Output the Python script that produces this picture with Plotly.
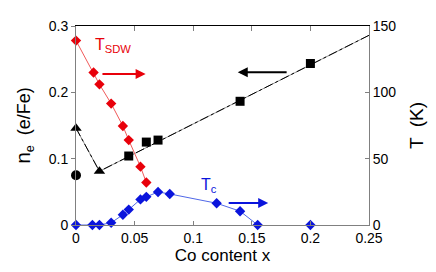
import plotly.graph_objects as go

# ---- data ----
sdw_x = [0, 0.015, 0.02, 0.03, 0.04, 0.045, 0.055, 0.06]
sdw_T = [139, 115, 106, 91.5, 74.6, 64, 44, 32]

tc_x = [0, 0.014, 0.02, 0.03, 0.04, 0.045, 0.055, 0.06, 0.07, 0.08, 0.12, 0.14, 0.155, 0.2]
tc_T = [0, 0, 0, 1.7, 7.7, 11.6, 19.3, 21.2, 24.9, 23.4, 16.4, 10.4, 0, 0]

ne_sq_x = [0.045, 0.06, 0.07, 0.14, 0.2]
ne_sq_y = [0.104, 0.125, 0.128, 0.1865, 0.2435]

ne_tri_x = [0, 0.02]
ne_tri_y = [0.146, 0.081]

ne_circ_x = [0]
ne_circ_y = [0.075]

ne_line_x = [0, 0.02, 0.25]
ne_line_y = [0.146, 0.081, 0.286]

x_ticks = [0, 0.05, 0.1, 0.15, 0.2, 0.25]
x_labels = ["0", "0.05", "0.1", "0.15", "0.2", "0.25"]
y_ticks = [0, 0.1, 0.2, 0.3]
y_labels = ["0", "0.1", "0.2", "0.3"]
y2_ticks = [0, 50, 100, 150]
y2_labels = ["0", "50", "100", "150"]

RED = "#e8000a"
RED_L = "#f05a5a"
BLUE = "#0a14dc"
BLUE_L = "#5068e8"
FONT = "Liberation Sans, Arial, sans-serif"

fig = go.Figure()

# n_e fit line
fig.add_trace(go.Scatter(x=ne_line_x, y=ne_line_y, mode="lines",
                         line=dict(color="#909090", width=1), yaxis="y",
                         hoverinfo="skip", showlegend=False))
fig.add_trace(go.Scatter(x=ne_line_x, y=ne_line_y, mode="lines",
                         line=dict(color="black", width=1, dash="dashdot"), yaxis="y",
                         hoverinfo="skip", showlegend=False))

# SDW
fig.add_trace(go.Scatter(x=sdw_x, y=sdw_T, mode="lines+markers", yaxis="y2",
                         line=dict(color=RED_L, width=1),
                         marker=dict(symbol="diamond", size=8, color=RED),
                         cliponaxis=False, showlegend=False))
# Tc
fig.add_trace(go.Scatter(x=tc_x[:-1], y=tc_T[:-1], mode="lines+markers", yaxis="y2",
                         line=dict(color=BLUE_L, width=1),
                         marker=dict(symbol="diamond", size=8, color=BLUE),
                         cliponaxis=False, showlegend=False))
fig.add_trace(go.Scatter(x=tc_x[-1:], y=tc_T[-1:], mode="markers", yaxis="y2",
                         marker=dict(symbol="diamond", size=8, color=BLUE),
                         cliponaxis=False, showlegend=False))

# n_e markers
fig.add_trace(go.Scatter(x=ne_sq_x, y=ne_sq_y, mode="markers", yaxis="y",
                         marker=dict(symbol="square", size=9, color="black"),
                         cliponaxis=False, showlegend=False))
fig.add_trace(go.Scatter(x=ne_tri_x, y=ne_tri_y, mode="markers", yaxis="y",
                         marker=dict(symbol="triangle-up", size=10, color="black"),
                         cliponaxis=False, showlegend=False))
fig.add_trace(go.Scatter(x=ne_circ_x, y=ne_circ_y, mode="markers", yaxis="y",
                         marker=dict(symbol="circle", size=10, color="black"),
                         cliponaxis=False, showlegend=False))

# top frame axis (ticks only)
fig.add_trace(go.Scatter(x=[0.1], y=[0.1], xaxis="x2", yaxis="y", mode="markers",
                         marker=dict(opacity=0), hoverinfo="skip", showlegend=False))

def arrow(x0, x1, y, color):
    return dict(x=x1, y=y, ax=x0, ay=y, xref="x", yref="y", axref="x", ayref="y",
                showarrow=True, arrowhead=2, arrowsize=1, arrowwidth=2,
                arrowcolor=color, text="")

annotations = [
    arrow(0.0213, 0.0594, 0.2275, RED),
    arrow(0.181, 0.138, 0.2304, "black"),
    arrow(0.129, 0.164, 0.033, BLUE),
    dict(x=0.0145, y=0.271, xref="x", yref="y", showarrow=False, xanchor="left",
         yanchor="middle", text="T<sub>SDW</sub>",
         font=dict(color=RED, size=16, family=FONT)),
    dict(x=0.1050, y=0.060, xref="x", yref="y", showarrow=False, xanchor="left",
         yanchor="middle", text="T<sub>c</sub>",
         font=dict(color=BLUE, size=16, family=FONT)),
]

fig.update_layout(
    width=428, height=264,
    margin=dict(l=68, r=67, t=10, b=47),
    paper_bgcolor="white", plot_bgcolor="white",
    font=dict(family=FONT, size=14, color="black"),
    xaxis=dict(range=[0, 0.25], tickvals=x_ticks, ticktext=x_labels,
               showline=True, linecolor="#808080", linewidth=1,
               ticks="inside", ticklen=4, tickcolor="#808080",
               showgrid=False, zeroline=False,
               title=dict(text="Co content x", font=dict(size=17), standoff=4)),
    xaxis2=dict(range=[0, 0.25], overlaying="x", side="top", tickvals=x_ticks,
                showticklabels=False, showline=True, linecolor="black", linewidth=1,
                ticks="inside", ticklen=5, tickcolor="#808080",
                showgrid=False, zeroline=False),
    yaxis=dict(range=[0, 0.3], tickvals=y_ticks, ticktext=y_labels,
               showline=True, linecolor="#808080", linewidth=1,
               ticks="outside", ticklen=4, tickcolor="#808080",
               showgrid=False, zeroline=False,
               title=dict(text="<span style='font-size:21px'>n</span><sub>e</sub>  (e/Fe)",
                          font=dict(size=18), standoff=13)),
    yaxis2=dict(range=[0, 150], overlaying="y", side="right", tickvals=y2_ticks,
                ticktext=y2_labels,
                showline=True, linecolor="#808080", linewidth=1,
                ticks="inside", ticklen=4, tickcolor="#808080",
                showgrid=False, zeroline=False,
                title=dict(text="T  (K)", font=dict(size=19), standoff=14)),
    annotations=annotations,
)

fig.write_html("out.html")
